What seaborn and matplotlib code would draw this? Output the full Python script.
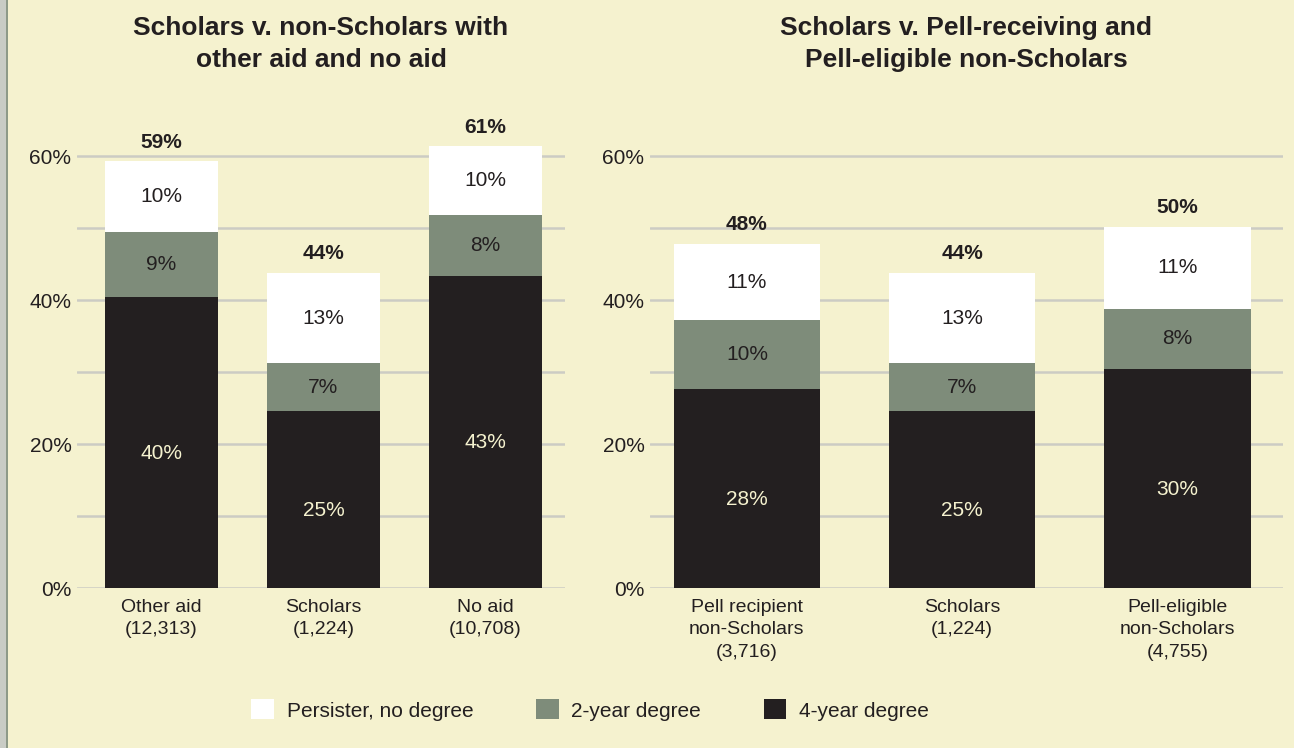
import matplotlib
matplotlib.use("Agg")
import matplotlib.pyplot as plt
from matplotlib.patches import Patch, Rectangle
from matplotlib.ticker import MultipleLocator, FuncFormatter
from matplotlib import font_manager
import seaborn as sns
import pandas as pd

# ---- data ----
left_title = "Scholars v. non-Scholars with\nother aid and no aid"
right_title = "Scholars v. Pell-receiving and\nPell-eligible non-Scholars"
left_cats = ["Other aid\n(12,313)", "Scholars\n(1,224)", "No aid\n(10,708)"]
left_four = [40.4, 24.6, 43.4]
left_two = [9.1, 6.6, 8.4]
left_pers = [9.8, 12.6, 9.6]
right_cats = ["Pell recipient\nnon-Scholars\n(3,716)", "Scholars\n(1,224)", "Pell-eligible\nnon-Scholars\n(4,755)"]
right_four = [27.6, 24.6, 30.4]
right_two = [9.6, 6.6, 8.4]
right_pers = [10.6, 12.6, 11.4]
series_names = ["Persister, no degree", "2-year degree", "4-year degree"]
y_ticks = [0, 20, 40, 60]

# ---- style ----
BG = "#F5F2CF"
BLACK = "#231F20"
GREEN = "#7E8C7A"
WHITE = "#FFFFFF"
GRID = "#CCCCC4"

sns.set_theme(style="white")
avail = {f.name for f in font_manager.fontManager.ttflist}
narrow = "Liberation Sans Narrow" if "Liberation Sans Narrow" in avail else "Liberation Sans"
plt.rcParams["font.family"] = [narrow, "DejaVu Sans"]
plt.rcParams["text.color"] = BLACK

fig = plt.figure(figsize=(12.94, 7.48), dpi=100, facecolor=BG)
fig.patches.append(Rectangle((0, 0), 6 / 1294, 1, transform=fig.transFigure,
                             facecolor="#C9CCC5", edgecolor="none", zorder=0))
fig.patches.append(Rectangle((6 / 1294, 0), 1.5 / 1294, 1, transform=fig.transFigure,
                             facecolor="#8E9A88", edgecolor="none", zorder=0))

H = 748.0
W = 1294.0
ax_l = fig.add_axes([77 / W, 1 - 588 / H, 488 / W, 468 / H])
ax_r = fig.add_axes([650 / W, 1 - 588 / H, 633 / W, 468 / H])


def draw(ax, cats, four, two, pers, title, width, xlim):
    ax.set_facecolor(BG)
    c2 = [a + b for a, b in zip(four, two)]
    c3 = [a + b + c for a, b, c in zip(four, two, pers)]
    df = pd.DataFrame({"cat": cats, "four": four, "c2": c2, "c3": c3})
    for col, color in (("c3", WHITE), ("c2", GREEN), ("four", BLACK)):
        sns.barplot(data=df, x="cat", y=col, color=color, saturation=1,
                    width=width, ax=ax, edgecolor="none", linewidth=0, zorder=3)
    ax.set_ylim(0, 65)
    ax.set_xlim(*xlim)
    ax.set_yticks(y_ticks)
    ax.yaxis.set_minor_locator(MultipleLocator(10))
    ax.yaxis.set_major_formatter(FuncFormatter(lambda v, p: f"{v:.0f}%"))
    ax.grid(True, axis="y", which="both", color=GRID, linewidth=1.8, zorder=0)
    ax.set_axisbelow(True)
    for s in ax.spines.values():
        s.set_visible(False)
    ax.tick_params(axis="y", which="both", length=0, labelsize=15, colors=BLACK, pad=4)
    ax.tick_params(axis="x", length=0, labelsize=14, colors=BLACK, pad=8)
    ax.set_xticks(range(len(cats)))
    ax.set_xticklabels(cats, linespacing=1.4)
    ax.set_xlabel("")
    ax.set_ylabel("")
    for i in range(len(cats)):
        ax.text(i, four[i] / 2 - 1.5, f"{four[i]:.0f}%", ha="center", va="center",
                fontsize=15, color=BG, zorder=5)
        ax.text(i, four[i] + two[i] / 2, f"{two[i]:.0f}%", ha="center", va="center",
                fontsize=15, color=BLACK, zorder=5)
        ax.text(i, c2[i] + pers[i] / 2, f"{pers[i]:.0f}%", ha="center", va="center",
                fontsize=15, color=BLACK, zorder=5)
        ax.text(i, c3[i] + 1.3, f"{c3[i]:.0f}%", ha="center", va="bottom",
                fontsize=15, fontweight="bold", color=BLACK, zorder=5)
    ax.set_title(title, fontsize=19, fontweight="bold", family=["Liberation Sans", "DejaVu Sans"],
                 color=BLACK, pad=38, linespacing=1.42)


draw(ax_l, left_cats, left_four, left_two, left_pers, left_title, 0.70, (-0.52, 2.49))
draw(ax_r, right_cats, right_four, right_two, right_pers, right_title, 0.68, (-0.45, 2.49))

handles = [Patch(facecolor=WHITE, edgecolor="none"),
           Patch(facecolor=GREEN, edgecolor="none"),
           Patch(facecolor=BLACK, edgecolor="none")]
fig.legend(handles, series_names, loc="center", bbox_to_anchor=(0.456, 1 - 710 / H),
           ncol=3, frameon=False, fontsize=15, handlelength=1.1, handleheight=1.1,
           columnspacing=3.0, handletextpad=0.6)

fig.savefig("out.png", dpi=100, facecolor=BG)
